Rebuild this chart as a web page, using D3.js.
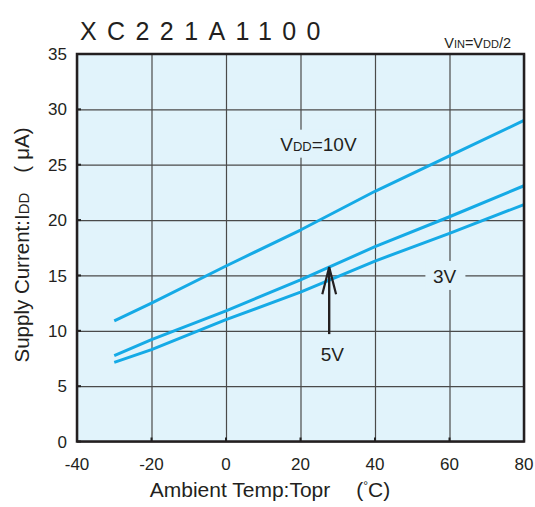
<!DOCTYPE html>
<meta charset="utf-8">
<style>
body { margin: 0; background: #fff; }
text { font-family: "Liberation Sans", Arial, sans-serif; fill: #231f20; }
.grid line { stroke: #4a4a4a; stroke-width: 1.2; }
.grid .domain { display: none; }
</style>
<svg width="535" height="507"></svg>
<script src="https://d3js.org/d3.v7.min.js"></script>
<script>

// values
var temps   = [-30, -20, 0, 20, 40, 60, 80];
var vdd10   = [10.9, 12.5, 15.85, 19.1, 22.6, 25.8, 29.0];
var vdd5    = [7.75, 9.2, 11.8, 14.6, 17.6, 20.3, 23.1];
var vdd3    = [7.15, 8.3, 11.0, 13.5, 16.3, 18.8, 21.4];
var xTicks  = [-40, -20, 0, 20, 40, 60, 80];
var yTicks  = [0, 5, 10, 15, 20, 25, 30, 35];

var svg = d3.select("svg"),
    margin = {top: 54, right: 11, bottom: 65.5, left: 77},
    width = +svg.attr("width") - margin.left - margin.right,
    height = +svg.attr("height") - margin.top - margin.bottom,
    g = svg.append("g").attr("transform", "translate(" + margin.left + "," + margin.top + ")");

var x = d3.scaleLinear().domain([-40, 80]).range([0, width]);
var y = d3.scaleLinear().domain([0, 35]).range([height, 0]);

var bg = "#e1f3fb";

g.append("rect")
    .attr("width", width)
    .attr("height", height)
    .attr("fill", bg);

// grid
g.append("g")
    .attr("class", "grid")
    .call(d3.axisBottom(x).tickValues(xTicks).tickSize(height).tickFormat(""));
g.append("g")
    .attr("class", "grid")
    .call(d3.axisLeft(y).tickValues(yTicks).tickSize(-width).tickFormat(""));

// little inner ticks on the frame
g.append("g").selectAll("line")
    .data(xTicks).enter().append("line")
    .attr("x1", function(d) { return x(d); })
    .attr("x2", function(d) { return x(d); })
    .attr("y1", height).attr("y2", height - 4)
    .attr("stroke", "#222").attr("stroke-width", 2);
g.append("g").selectAll("line")
    .data(yTicks).enter().append("line")
    .attr("x1", 0).attr("x2", 4)
    .attr("y1", function(d) { return y(d); })
    .attr("y2", function(d) { return y(d); })
    .attr("stroke", "#222").attr("stroke-width", 2);

// tick labels
g.append("g").selectAll("text")
    .data(xTicks).enter().append("text")
    .attr("x", function(d) { return x(d); })
    .attr("y", height + 28)
    .attr("text-anchor", "middle")
    .style("font-size", "17px")
    .text(function(d) { return d; });

g.append("g").selectAll("text")
    .data(yTicks).enter().append("text")
    .attr("x", -10)
    .attr("y", function(d) { return y(d); })
    .attr("dy", "0.36em")
    .attr("text-anchor", "end")
    .style("font-size", "17px")
    .text(function(d) { return d; });

// label boxes that hide the grid behind them
function labelBox(cx, cy, w, h) {
  g.append("rect")
      .attr("x", x(cx) - w / 2)
      .attr("y", y(cy) - h / 2)
      .attr("width", w)
      .attr("height", h)
      .attr("fill", bg);
}

// curves
var line = d3.line()
    .x(function(d) { return x(d[0]); })
    .y(function(d) { return y(d[1]); });

[vdd10, vdd5, vdd3].forEach(function(s) {
  g.append("path")
      .datum(temps.map(function(t, i) { return [t, s[i]]; }))
      .attr("fill", "none")
      .attr("stroke", "#15aae6")
      .attr("stroke-width", 3)
      .attr("stroke-linejoin", "round")
      .attr("d", line);
});

// VDD=10V label
labelBox(24.8, 26.9, 98, 28);
var t10 = g.append("text")
    .attr("x", x(24.8))
    .attr("y", y(26.9))
    .attr("dy", "0.36em")
    .attr("text-anchor", "middle")
    .style("font-size", "19px");
t10.append("tspan").text("V");
t10.append("tspan").style("font-size", "13px").text("DD");
t10.append("tspan").text("=10V");

// 3V label
labelBox(58.9, 15, 40, 29);
g.append("text")
    .attr("x", x(58.66))
    .attr("y", y(14.9))
    .attr("dy", "0.36em")
    .attr("text-anchor", "middle")
    .style("font-size", "19px")
    .text("3V");

// 5V arrow
var ax = 27.7;
g.append("line")
    .attr("x1", x(ax)).attr("x2", x(ax))
    .attr("y1", y(9.7)).attr("y2", y(15.6))
    .attr("stroke", "#231f20").attr("stroke-width", 2.4);
g.append("path")
    .attr("d", "M" + x(ax - 1.85) + "," + y(13.3) +
               "L" + x(ax) + "," + y(15.75) +
               "L" + x(ax + 1.85) + "," + y(13.3))
    .attr("fill", "none")
    .attr("stroke", "#231f20")
    .attr("stroke-width", 2.2);
g.append("text")
    .attr("x", x(28.55))
    .attr("y", y(7.9))
    .attr("dy", "0.36em")
    .attr("text-anchor", "middle")
    .style("font-size", "19px")
    .text("5V");

// frame
g.append("rect")
    .attr("width", width)
    .attr("height", height)
    .attr("fill", "none")
    .attr("stroke", "#231f20")
    .attr("stroke-width", 2.5);

// title
svg.append("text")
    .attr("x", 80)
    .attr("y", 39.5)
    .style("font-size", "25px")
    .style("letter-spacing", "10.4px")
    .text("XC221A1100");

var vin = svg.append("text")
    .attr("x", 511)
    .attr("y", 48)
    .attr("text-anchor", "end")
    .style("font-size", "14.5px");
vin.append("tspan").text("V");
vin.append("tspan").style("font-size", "11px").text("IN");
vin.append("tspan").text("=V");
vin.append("tspan").style("font-size", "11px").text("DD");
vin.append("tspan").text("/2");

// axis titles
var xt = svg.append("text")
    .attr("x", 270)
    .attr("y", 497)
    .attr("text-anchor", "middle")
    .style("font-size", "21px");
xt.append("tspan").text("Ambient Temp:Topr");
xt.append("tspan").attr("dx", 26).text("(");
xt.append("tspan").attr("dy", -7).style("font-size", "12px").text("°");
xt.append("tspan").attr("dy", 7).text("C)");

var yt = svg.append("text")
    .attr("transform", "translate(29,245) rotate(-90)")
    .attr("text-anchor", "middle")
    .style("font-size", "20.5px");
yt.append("tspan").text("Supply Current:I");
yt.append("tspan").style("font-size", "15px").text("DD");
yt.append("tspan").attr("dx", 20).text("(");
yt.append("tspan").attr("dx", 6).text("μA)");

</script>
